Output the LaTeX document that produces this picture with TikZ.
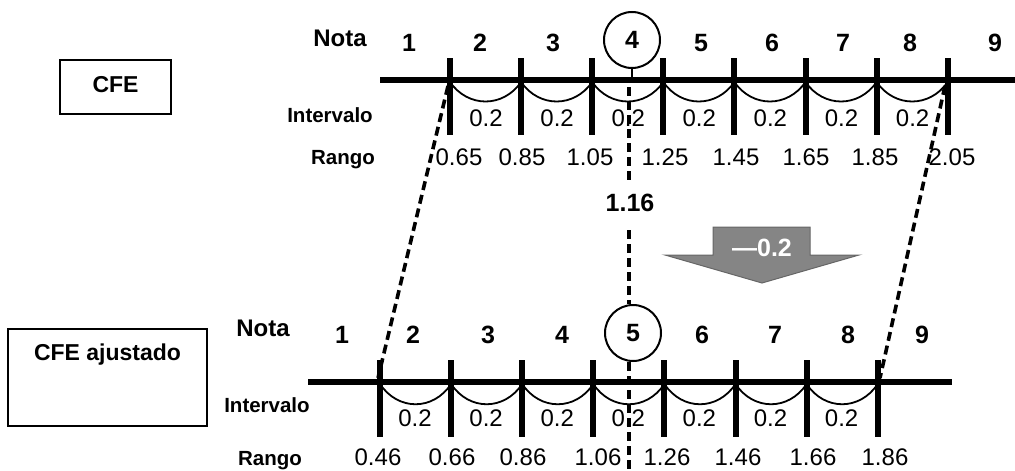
\documentclass[tikz,border=0pt]{standalone}
\usepackage{fontspec}
\setmainfont{Liberation Sans}
\begin{document}
\begin{tikzpicture}[x=1pt,y=-1pt,
  lbl/.style={font=\fontsize{20.5}{22}\selectfont\bfseries, inner sep=0pt},
  notalbl/.style={font=\fontsize{24}{26}\selectfont\bfseries, inner sep=0pt},
  num/.style={font=\fontsize{25}{27}\selectfont\bfseries, inner sep=0pt},
  val/.style={font=\fontsize{24}{26}\selectfont, inner sep=0pt},
  axisline/.style={line width=6pt},
  tickmark/.style={line width=6pt},
  arcline/.style={line width=1.8pt},
  dashline/.style={line width=3.6pt, dash pattern=on 9pt off 5pt},
  circnum/.style={circle, draw, line width=2pt, minimum size=56pt, inner sep=0pt, font=\fontsize{25}{27}\selectfont\bfseries},
  boxnode/.style={draw, line width=1.5pt, inner sep=0pt, font=\fontsize{23}{25}\selectfont\bfseries, text height=16.5pt}
]
\useasboundingbox (0,0) rectangle (1015,471);

% ---------- boxes ----------
\node[boxnode, minimum width=111pt, minimum height=54pt, text depth=6.5pt] (cfe) at (115.5,87) {CFE};
\node[boxnode, minimum width=199pt, minimum height=97pt, text depth=51pt] (cfea) at (107.5,377.5) {CFE ajustado};

% ---------- top scale ----------
\draw[axisline] (380,80) -- (1015,80);
\foreach \i in {0,...,7} {
  \draw[tickmark] ({450+71.1*\i},58) -- ({450+71.1*\i},135);
}
\foreach \i in {0,...,6} {
  \draw[arcline] ({450+71.1*\i},82) .. controls +(18,26) and +(-18,26) .. ({521.1+71.1*\i},82);
}
\node[notalbl] (notaA) at (340,38) {Nota};
\foreach \n/\x in {1/409,2/480,3/553,5/701,6/772,7/843,8/910,9/995} {
  \node[num] (a\n) at (\x,43) {\n};
}
\node[circnum] (c4) at (632,40) {4};
\coordinate (c4base) at (632,80);
\draw[line width=2pt] (c4.south) -- (c4base);

\node[lbl] (intA) at (330,115) {Intervalo};
\foreach \i in {0,...,6} {
  \node[val] (ia\i) at ({486+71.1*\i},118) {0.2};
}
\node[lbl] (rangoA) at (343,160) {Rango};
\foreach \v/\x [count=\k] in {0.65/459,0.85/522,1.05/590,1.25/665,1.45/736,1.65/806,1.85/875,2.05/952} {
  \node[val] (ra\k) at (\x,157) {\v};
}

% ---------- middle ----------
\node[font=\fontsize{25}{27}\selectfont\bfseries, inner sep=0pt] (v116) at (630,203) {1.16};
\coordinate (dtop) at (629,87);
\coordinate (dmid1) at (629,183);
\coordinate (dmid2) at (629,230);
\draw[dashline] (dtop) -- (dmid1);

% gray arrow
\draw[line width=1pt, draw=black!60, fill=black!48]
  (713,227) -- (810,227) -- (810,255) -- (859,255) -- (762,283) -- (665,255) -- (713,255) -- cycle;
\node[font=\fontsize{25}{27}\selectfont\bfseries, text=white, inner sep=0pt] (delta) at (762,248) {—0.2};

% ---------- bottom scale ----------
\draw[axisline] (308,382) -- (952,382);
\foreach \i in {0,...,7} {
  \draw[tickmark] ({380+71.1*\i},360) -- ({380+71.1*\i},437);
}
\foreach \i in {0,...,6} {
  \draw[arcline] ({380+71.1*\i},384) .. controls +(18,27) and +(-18,27) .. ({451.1+71.1*\i},384);
}
\node[notalbl] (notaB) at (263,328) {Nota};
\foreach \n/\x in {1/342,2/413,3/488,4/562,6/702,7/775,8/848,9/922} {
  \node[num] (b\n) at (\x,335) {\n};
}
\node[circnum] (c5) at (633,333) {5};
\coordinate (dbot) at (629,471);
\draw[dashline] (dmid2) -- (c5.north -| dmid2);
\draw[dashline] (c5.south -| dbot) -- (dbot);

\node[lbl] (intB) at (267,405) {Intervalo};
\foreach \i in {0,...,6} {
  \node[val] (ib\i) at ({415+71.1*\i},418) {0.2};
}
\node[lbl] (rangoB) at (270,461) {Rango};
\foreach \v/\x [count=\k] in {0.46/378,0.66/452,0.86/523,1.06/598,1.26/667,1.46/738,1.66/813,1.86/885} {
  \node[val] (rb\k) at (\x,457) {\v};
}

% ---------- diagonals ----------
\coordinate (tl) at (448,86);
\coordinate (bl) at (378,378);
\coordinate (tr) at (945,86);
\coordinate (br) at (880,378);
\draw[dashline] (tl) -- (bl);
\draw[dashline] (tr) -- (br);
\end{tikzpicture}
\end{document}
